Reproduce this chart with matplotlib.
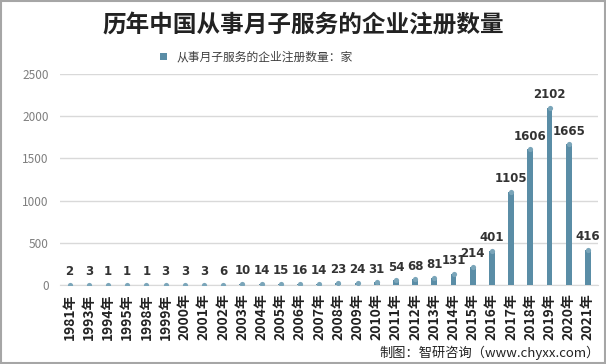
import matplotlib.pyplot as plt
from matplotlib.patches import Rectangle

plt.rcParams['font.family'] = ['Noto Sans CJK SC', 'DejaVu Sans']

years = ['1981年', '1993年', '1994年', '1995年', '1998年', '1999年', '2000年',
         '2001年', '2002年', '2003年', '2004年', '2005年', '2006年', '2007年',
         '2008年', '2009年', '2010年', '2011年', '2012年', '2013年', '2014年',
         '2015年', '2016年', '2017年', '2018年', '2019年', '2020年', '2021年']
counts = [2, 3, 1, 1, 1, 3, 3, 3, 6, 10, 14, 15, 16, 14, 23, 24, 31, 54,
          68, 81, 131, 214, 401, 1105, 1606, 2102, 1665, 416]
yticks = [0, 500, 1000, 1500, 2000, 2500]

color = '#5a8da6'

fig = plt.figure(figsize=(6.06, 3.64), dpi=100)
ax = fig.add_axes([0.099, 0.217, 0.887, 0.58])

x = list(range(len(years)))
ax.bar(x, counts, width=0.3, color=color, label='从事月子服务的企业注册数量：家', zorder=3)
# rounded tops
ax.scatter(x, counts, s=14, color='#7aa5b9', zorder=4, linewidths=0)

for xi, v in zip(x, counts):
    ax.text(xi, v + 80, str(v), ha='center', va='bottom', fontsize=8.5,
            fontweight='bold', color='#333333', family=['DejaVu Sans'])

ax.set_xlim(-0.5, len(years) - 0.5)
ax.set_ylim(0, 2500)
ax.set_yticks(yticks)
ax.set_xticks(x)
ax.set_xticklabels(years, rotation=90, fontsize=10, fontweight='bold', color='#222222')
ax.tick_params(axis='y', length=0, labelsize=8.5, labelcolor='#7f7f7f', pad=8)
ax.tick_params(axis='x', length=0, pad=6)
ax.grid(axis='y', color='#d9d9d9', linewidth=1, zorder=0)
for s in ['top', 'right', 'left']:
    ax.spines[s].set_visible(False)
ax.spines['bottom'].set_color('#d9d9d9')

ax.legend(loc='upper center', bbox_to_anchor=(0.365, 1.16), frameon=False,
          fontsize=8.5, handlelength=0.6, handleheight=0.6, labelcolor='#404040')

fig.text(0.5, 0.93, '历年中国从事月子服务的企业注册数量', ha='center', va='center',
         fontsize=17, fontweight='bold', color='#222222')
fig.text(0.99, 0.032, '制图：智研咨询（www.chyxx.com）', ha='right', va='center',
         fontsize=9.5, color='#222222')

fig.patches.append(Rectangle((0.001, 0.002), 0.997, 0.996, transform=fig.transFigure,
                             fill=False, edgecolor='#a6a6a6', linewidth=1.5))

fig.savefig('out.png', dpi=100)
